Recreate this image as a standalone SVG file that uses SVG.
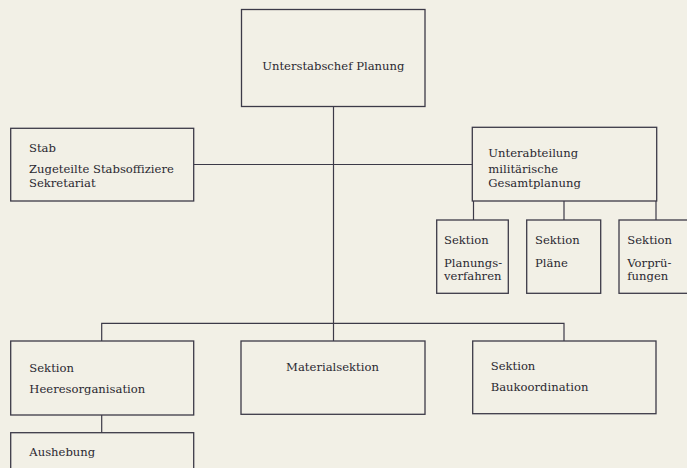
<svg xmlns="http://www.w3.org/2000/svg" width="687" height="468" viewBox="0 0 687 468">
<style>
.box{fill:none;stroke:#3c3a48;stroke-width:1.3}
.ln{fill:none;stroke:#3c3a48;stroke-width:1.2}
text{font-family:"DejaVu Serif","Liberation Serif",serif;font-size:11.6px;fill:#2a2830}
</style>
<rect width="687" height="468" fill="#f2f0e6"/>
<g id="connectors">
<path class="ln" d="M333.5 106.5V341"/>
<path class="ln" d="M194 164.5H472.5"/>
<path class="ln" d="M473.5 201V220M564 201V220M656 201V220"/>
<path class="ln" d="M101.7 341V323.3H564V341"/>
<path class="ln" d="M101.7 415V432.7"/>
</g>
<g id="n-top">
<rect class="box" x="241.5" y="9.5" width="183.5" height="97"/>
<text x="333.3" y="70" text-anchor="middle">Unterstabschef Planung</text>
</g>
<g id="n-stab">
<rect class="box" x="10.7" y="128.3" width="183" height="72.7"/>
<text x="29" y="151.7">Stab</text>
<text x="29" y="173">Zugeteilte Stabsoffiziere</text>
<text x="29" y="186.7">Sekretariat</text>
</g>
<g id="n-unterabteilung">
<rect class="box" x="472.3" y="127.3" width="184.4" height="73.7"/>
<text x="488.3" y="157.3">Unterabteilung</text>
<text x="488.3" y="172.7">militärische</text>
<text x="488.3" y="186.7">Gesamtplanung</text>
</g>
<g id="n-planungsverfahren">
<rect class="box" x="436.7" y="220" width="71.6" height="73.3"/>
<text x="444" y="244.3">Sektion</text>
<text x="444" y="266.7">Planungs-</text>
<text x="444" y="280">verfahren</text>
</g>
<g id="n-plaene">
<rect class="box" x="526.7" y="220" width="74" height="73.3"/>
<text x="535" y="244.3">Sektion</text>
<text x="535" y="266.7">Pläne</text>
</g>
<g id="n-vorpruefungen">
<rect class="box" x="619" y="220" width="80" height="73.3"/>
<text x="627.3" y="244.3">Sektion</text>
<text x="627.3" y="266.7">Vorprü-</text>
<text x="627.3" y="280">fungen</text>
</g>
<g id="n-heeresorganisation">
<rect class="box" x="10.7" y="341" width="183" height="74"/>
<text x="29.3" y="372.3">Sektion</text>
<text x="29.3" y="392.7">Heeresorganisation</text>
</g>
<g id="n-material">
<rect class="box" x="241" y="341" width="184" height="73.3"/>
<text x="332.5" y="371" text-anchor="middle">Materialsektion</text>
</g>
<g id="n-bau">
<rect class="box" x="472.7" y="341" width="183.3" height="72.7"/>
<text x="490.7" y="370">Sektion</text>
<text x="490.7" y="390.7">Baukoordination</text>
</g>
<g id="n-aushebung">
<rect class="box" x="10.7" y="432.7" width="183" height="50"/>
<text x="29.3" y="456">Aushebung</text>
</g>
</svg>
